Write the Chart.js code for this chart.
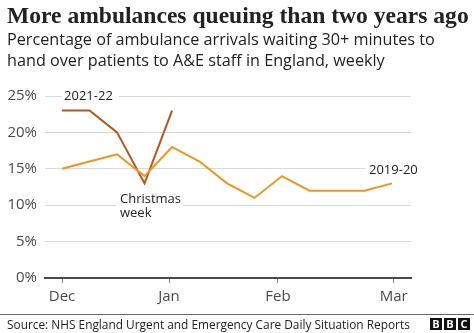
<!DOCTYPE html>
<html>
<head>
<meta charset="utf-8">
<script src="https://cdn.jsdelivr.net/npm/chart.js@4.4.1/dist/chart.umd.min.js"></script>
<style>
  html, body { margin: 0; padding: 0; background: #fff; }
  #wrap { position: relative; width: 474px; height: 333px; }
</style>
</head>
<body>
<div id="wrap"><canvas id="chart" width="474" height="333"></canvas></div>
<script>
// weekly points, Dec -> Mar
const weekIndex = [0, 1, 2, 3, 4, 5, 6, 7, 8, 9, 10, 11, 12];
const values2019 = [15, 16, 17, 14, 18, 16, 13, 11, 14, 12, 12, 12, 13];
const values2021 = [23, 23, 20, 13, 23];
const monthLabels = ['Dec', 'Jan', 'Feb', 'Mar'];
const monthWeeks = [0, 3.89, 7.85, 12.06];
const yTicks = [0, 5, 10, 15, 20, 25];

const titleText = 'More ambulances queuing than two years ago';
const subtitleLines = [
  'Percentage of ambulance arrivals waiting 30+ minutes to',
  'hand over patients to A&E staff in England, weekly'
];
const sourceText = 'Source: NHS England Urgent and Emergency Care Daily Situation Reports';

const SANS = "'Open Sans', 'Noto Sans', sans-serif";
const SERIF = "'Liberation Serif', 'DejaVu Serif', serif";

function fitFont(ctx, text, weight, family, target, start) {
  let size = start;
  ctx.font = `${weight} ${size}px ${family}`;
  const w = ctx.measureText(text).width;
  size = size * target / w;
  ctx.font = `${weight} ${size}px ${family}`;
}

const decorPlugin = {
  id: 'decor',
  beforeDatasetsDraw(chart) {
    const { ctx, scales: { x, y } } = chart;
    ctx.save();
    ctx.font = `13px ${SANS}`;
    ctx.textBaseline = 'middle';

    // 2021-22 label
    ctx.fillStyle = '#fff';
    ctx.fillRect(x.getPixelForValue(0), y.getPixelForValue(25) - 3, 57, 6);
    ctx.fillStyle = '#222';
    ctx.textAlign = 'left';
    ctx.fillText('2021-22', x.getPixelForValue(0) + 2, y.getPixelForValue(25));

    // 2019-20 label
    ctx.fillStyle = '#fff';
    ctx.fillRect(365, y.getPixelForValue(15) - 3, 50, 6);
    ctx.fillStyle = '#222';
    ctx.fillText('2019-20', 369, y.getPixelForValue(15) + 1);

    // Christmas week
    ctx.fillStyle = '#fff';
    ctx.fillRect(116, y.getPixelForValue(10) - 3, 67, 6);
    ctx.fillStyle = '#222';
    ctx.fillText('Christmas', 120, y.getPixelForValue(10) - 6);
    ctx.fillText('week', 120, y.getPixelForValue(10) + 8);
    ctx.restore();
  },
  afterDraw(chart) {
    const { ctx } = chart;
    ctx.save();
    ctx.textAlign = 'left';
    ctx.textBaseline = 'alphabetic';
    ctx.fillStyle = '#222';

    fitFont(ctx, titleText, 'bold', SERIF, 462, 22);
    ctx.fillText(titleText, 7, 23);

    fitFont(ctx, subtitleLines[0], 'normal', SANS, 428, 16);
    ctx.fillText(subtitleLines[0], 7, 45);
    ctx.fillText(subtitleLines[1], 7, 66);

    // footer
    ctx.fillStyle = '#666';
    ctx.fillRect(0, 314, 474, 1);
    ctx.fillStyle = '#222';
    fitFont(ctx, sourceText, 'normal', SANS, 403, 13);
    ctx.fillText(sourceText, 7, 329);

    // BBC blocks
    ctx.font = `bold 11px ${SANS}`;
    ctx.textAlign = 'center';
    ctx.textBaseline = 'middle';
    'BBC'.split('').forEach((ch, i) => {
      const bx = 430 + i * 14;
      ctx.fillStyle = '#111';
      ctx.fillRect(bx, 318, 12, 12);
      ctx.fillStyle = '#fff';
      ctx.fillText(ch, bx + 6, 324.5);
    });
    ctx.restore();
  }
};

new Chart(document.getElementById('chart'), {
  type: 'line',
  data: {
    datasets: [
      {
        label: '2019-20',
        data: weekIndex.map((w, i) => ({ x: w, y: values2019[i] })),
        borderColor: '#f39320',
        borderWidth: 2,
        pointRadius: 0,
        tension: 0
      },
      {
        label: '2021-22',
        data: values2021.map((v, i) => ({ x: weekIndex[i], y: v })),
        borderColor: '#b8561c',
        borderWidth: 2,
        pointRadius: 0,
        tension: 0
      }
    ]
  },
  options: {
    responsive: false,
    animation: false,
    layout: { padding: { top: 96, right: 63, bottom: 23, left: 0 } },
    plugins: { legend: { display: false }, tooltip: { enabled: false } },
    scales: {
      x: {
        type: 'linear',
        min: -0.62,
        max: 12.69,
        afterBuildTicks: (scale) => {
          scale.ticks = monthWeeks.map(v => ({ value: v }));
        },
        afterFit: (scale) => { scale.height = 32; },
        ticks: {
          autoSkip: false,
          maxRotation: 0,
          padding: 5,
          color: '#4a4a4a',
          font: { family: SANS, size: 15 },
          callback: (v) => monthLabels[monthWeeks.indexOf(v)]
        },
        grid: {
          drawOnChartArea: false,
          drawTicks: true,
          tickLength: 5,
          color: '#888',
          lineWidth: 1
        },
        border: { display: true, color: '#4a4a4a', width: 2 }
      },
      y: {
        min: 0,
        max: 25,
        afterBuildTicks: (scale) => {
          scale.ticks = yTicks.map(v => ({ value: v }));
        },
        afterFit: (scale) => { scale.width = 45; },
        ticks: {
          padding: 8,
          color: '#4a4a4a',
          font: { family: SANS, size: 15 },
          callback: (v) => v + '%'
        },
        grid: {
          drawTicks: false,
          color: '#d9d9d9',
          lineWidth: 1
        },
        border: { display: false }
      }
    }
  },
  plugins: [decorPlugin]
});
</script>
</body>
</html>
